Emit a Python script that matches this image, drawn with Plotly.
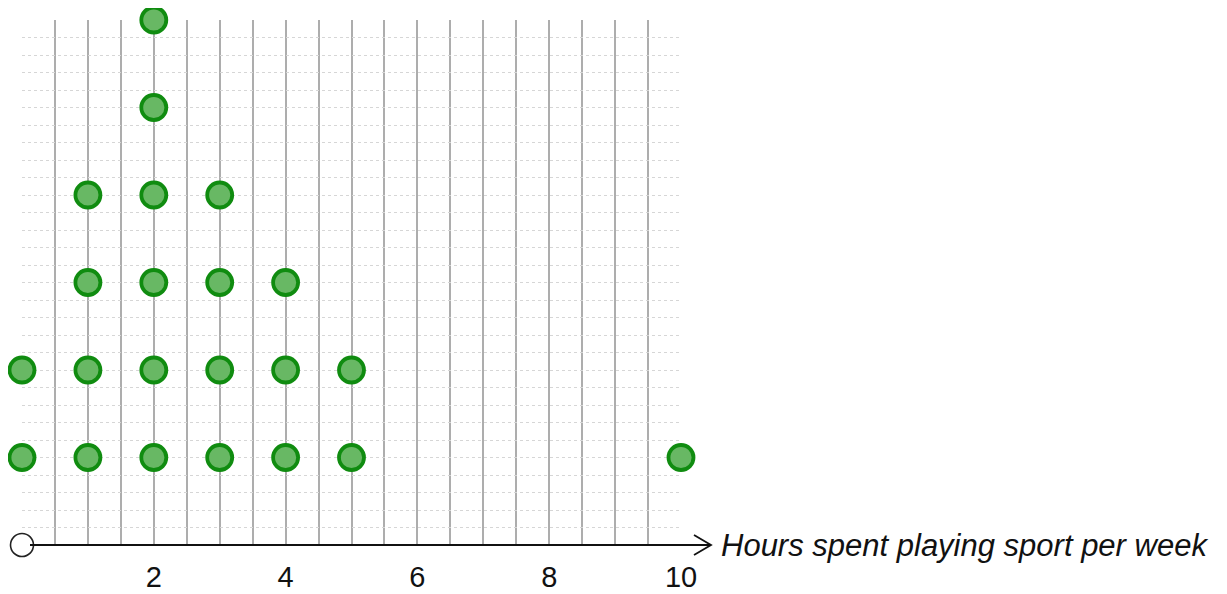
import plotly.graph_objects as go

# Data: dot plot of hours spent playing sport per week
hours = [0, 1, 2, 3, 4, 5, 10]
counts = [2, 4, 6, 4, 3, 2, 1]
tick_labels = {2: "2", 4: "4", 6: "6", 8: "8", 10: "10"}
axis_title = "Hours spent playing sport per week"

xs, ys = [], []
for h, c in zip(hours, counts):
    for k in range(1, c + 1):
        xs.append(h)
        ys.append(k)

# page body has an 8px margin; figure sized to fit the window
W, H = 1219, 586
L, R, T, B = 14, 546, 12, 49
pw = W - L - R
ph = H - T - B

fig = go.Figure()
fig.add_trace(go.Scatter(
    x=xs, y=ys, mode="markers", cliponaxis=False, hoverinfo="skip",
    marker=dict(size=25, color="rgb(104,184,100)",
                line=dict(color="rgb(16,140,16)", width=3.8)),
))

xt = [i * 0.5 for i in range(1, 21)]
xtext = [tick_labels.get(v, "") if float(v).is_integer() else "" for v in xt]
yt = [round(i * 0.2, 2) for i in range(1, 31)]

fig.update_layout(
    width=W, height=H, margin=dict(l=L, r=R, t=T, b=B),
    paper_bgcolor="white", plot_bgcolor="white", showlegend=False,
    xaxis=dict(range=[0, 10], tickvals=xt, ticktext=xtext, showgrid=True,
               gridcolor="#adadad", gridwidth=1.6, zeroline=False, showline=False,
               ticks="", ticklabelstandoff=12, automargin=False,
               tickfont=dict(family="Liberation Sans, Arial", size=29, color="#111")),
    yaxis=dict(range=[0, 6], tickvals=yt, showticklabels=False, showgrid=True,
               gridcolor="#d6d6d6", gridwidth=1.2, griddash="dot", automargin=False,
               zeroline=False, showline=False, ticks=""),
)

# x axis line with open arrow head (paper coords, not clipped)
def px2paper(px):
    return (px - L) / pw

dy = 10 / ph
fig.add_shape(type="line", xref="paper", yref="paper", x0=px2paper(22), x1=px2paper(702),
              y0=0, y1=0, line=dict(color="#111", width=2))
ax0 = px2paper(686)
fig.add_shape(type="path", xref="paper", yref="paper",
              path=f"M {ax0},{dy} L {px2paper(703)},0 L {ax0},{-dy}",
              line=dict(color="#111", width=1.8))

# origin circle drawn on top of the axis line
fig.add_trace(go.Scatter(
    x=[0], y=[0], mode="markers", cliponaxis=False, hoverinfo="skip",
    marker=dict(symbol="circle-open", size=23, color="#222", line=dict(width=1.6)),
))

fig.add_annotation(x=px2paper(711), y=0, xref="paper", yref="paper", text=axis_title,
                   showarrow=False, xanchor="left", yanchor="middle",
                   font=dict(family="Liberation Sans, Arial", size=31, color="#111",
                             style="italic"))

fig.write_html("out.html")
